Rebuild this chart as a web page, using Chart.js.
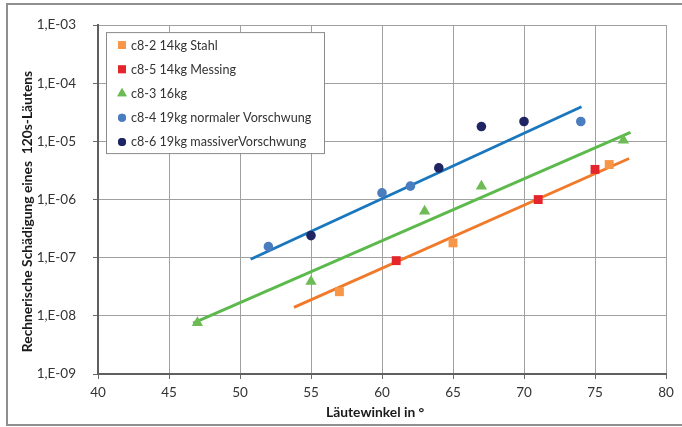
<!DOCTYPE html>
<html>
<head>
<meta charset="utf-8">
<script src="https://cdn.jsdelivr.net/npm/chart.js@4/dist/chart.umd.min.js"></script>
<style>
  html, body { margin: 0; padding: 0; background: #fff; }
  #wrap { width: 682px; height: 427px; }
</style>
</head>
<body>
<div id="wrap"><canvas id="chart" width="682" height="427"></canvas></div>
<script>
// Messpunkte je Glocke (Läutewinkel in Grad / rechnerische Schädigung)
const stahlX = [57, 65, 76];
const stahlY = [2.6e-8, 1.8e-7, 4.0e-6];
const messingX = [61, 71, 75];
const messingY = [8.9e-8, 1.0e-6, 3.3e-6];
const c83X = [47, 55, 63, 67, 77];
const c83Y = [7.6e-9, 3.9e-8, 6.3e-7, 1.7e-6, 1.05e-5];
const c84X = [52, 60, 62, 74];
const c84Y = [1.55e-7, 1.3e-6, 1.7e-6, 2.2e-5];
const c86X = [55, 64, 67, 70];
const c86Y = [2.4e-7, 3.5e-6, 1.8e-5, 2.2e-5];

// Trendlinien (exponentiell -> Gerade im log-Diagramm), Anfangs- und Endpunkt
const trendBlueX = [50.75, 74.05];
const trendBlueY = [9.4e-8, 3.95e-5];
const trendGreenX = [46.7, 77.5];
const trendGreenY = [7.5e-9, 1.43e-5];
const trendOrangeX = [53.8, 77.4];
const trendOrangeY = [1.4e-8, 5.1e-6];

// Achsenbeschriftung
const xTicks = [40, 45, 50, 55, 60, 65, 70, 75, 80];
const yTickValues = [1e-9, 1e-8, 1e-7, 1e-6, 1e-5, 1e-4, 1e-3];
const yTickLabels = ['1,E-09', '1,E-08', '1,E-07', '1,E-06', '1,E-05', '1,E-04', '1,E-03'];
const xTitle = 'Läutewinkel in °';
const yTitle = 'Rechnerische Schädigung eines  120s-Läutens';

const FONT = 'Lato, Carlito, Calibri, sans-serif';
const TEXT = '#333';

function pts(xs, ys) { return xs.map((x, i) => ({x: x, y: ys[i]})); }

function markerSet(label, xs, ys, color, style, r) {
  return {
    label: label, data: pts(xs, ys), inLegend: true,
    pointStyle: style, pointRadius: r, pointBackgroundColor: color,
    pointBorderColor: color, pointBorderWidth: 0, backgroundColor: color,
    showLine: false
  };
}
function trendSet(xs, ys, color) {
  return {
    label: '', data: pts(xs, ys), inLegend: false,
    showLine: true, borderColor: color, borderWidth: 2.8,
    pointRadius: 0, fill: false
  };
}

// Rahmen um das ganze Diagramm
const framePlugin = {
  id: 'frame',
  beforeDraw(chart) {
    const c = chart.ctx;
    c.save();
    c.fillStyle = '#fff';
    c.fillRect(0, 0, chart.width, chart.height);
    c.strokeStyle = '#8f8f8f';
    c.lineWidth = 2;
    c.beginPath();
    c.moveTo(chart.width, 4);
    c.lineTo(7, 4);
    c.lineTo(7, 425);
    c.lineTo(chart.width, 425);
    c.stroke();
    c.restore();
  }
};

// Achsentitel (wie im Excel-Diagramm leicht versetzt)
const axisTitles = {
  id: 'axisTitles',
  afterDraw(chart) {
    const c = chart.ctx;
    const a = chart.chartArea;
    c.save();
    c.font = 'bold 13.8px ' + FONT;
    c.fillStyle = '#1a1a1a';
    c.textAlign = 'center';
    c.textBaseline = 'middle';
    c.fillText(xTitle, a.left + (a.right - a.left) * 0.488, 413);
    c.translate(28, chart.height / 2 - 2);
    c.rotate(-Math.PI / 2);
    c.fillText(yTitle, 0, 0);
    c.restore();
  }
};

// Legende im Plotbereich mit Rahmen
const boxLegend = {
  id: 'boxLegend',
  afterDatasetsDraw(chart) {
    const c = chart.ctx;
    const a = chart.chartArea;
    const left = a.left + 8, top = a.top + 7, w = 218, h = 121;
    c.save();
    c.fillStyle = '#fff';
    c.fillRect(left, top, w, h);
    c.strokeStyle = '#8a8a8a';
    c.lineWidth = 1;
    c.strokeRect(left + 0.5, top + 0.5, w, h);
    c.font = '12.6px ' + FONT;
    c.textBaseline = 'middle';
    let row = 0;
    chart.data.datasets.forEach(ds => {
      if (!ds.inLegend) return;
      const y = top + 13 + row * 24.2;
      c.fillStyle = ds.pointBackgroundColor;
      Chart.helpers.drawPoint(c, {pointStyle: ds.pointStyle, radius: ds.pointStyle === 'circle' ? 4 : 5.5, rotation: 0, borderWidth: 0}, left + 16, y);
      c.fill();
      c.fillStyle = TEXT;
      c.fillText(ds.label, left + 25, y + 0.5);
      row++;
    });
    c.restore();
  }
};

const ctx = document.getElementById('chart').getContext('2d');
new Chart(ctx, {
  type: 'scatter',
  data: {
    datasets: [
      markerSet('c8-2 14kg Stahl', stahlX, stahlY, '#f79646', 'rect', 6.3),
      markerSet('c8-5 14kg Messing', messingX, messingY, '#e4262c', 'rect', 6.3),
      markerSet('c8-3 16kg', c83X, c83Y, '#6dbb55', 'triangle', 6.5),
      markerSet('c8-4 19kg normaler Vorschwung', c84X, c84Y, '#4a7dbf', 'circle', 4.8),
      markerSet('c8-6 19kg massiverVorschwung', c86X, c86Y, '#1f2462', 'circle', 4.8),
      trendSet(trendBlueX, trendBlueY, '#1a76bd'),
      trendSet(trendGreenX, trendGreenY, '#5cba4c'),
      trendSet(trendOrangeX, trendOrangeY, '#f07a2a')
    ]
  },
  options: {
    responsive: false,
    animation: false,
    layout: { padding: { top: 25, right: 16, left: 0, bottom: 0 } },
    plugins: {
      legend: { display: false },
      tooltip: { enabled: false }
    },
    scales: {
      x: {
        type: 'linear', min: 40, max: 80,
        afterFit(s) { s.height = 53; },
        afterBuildTicks(s) { s.ticks = xTicks.map(v => ({value: v})); },
        ticks: { font: { family: FONT, size: 13.5 }, color: TEXT, padding: 6, maxRotation: 0 },
        grid: { color: '#a0a0a0', lineWidth: 1, tickLength: 5, tickColor: '#6b6b6b' },
        border: { color: '#5f5f5f', width: 2 }
      },
      y: {
        type: 'logarithmic', min: 1e-9, max: 1e-3,
        afterFit(s) { s.width = 98; },
        afterBuildTicks(s) { s.ticks = yTickValues.map(v => ({value: v})); },
        ticks: {
          font: { family: FONT, size: 13.5 }, color: TEXT, padding: 17,
          callback: (v) => yTickLabels[yTickValues.findIndex(t => Math.abs(t - v) / t < 1e-6)]
        },
        grid: { color: '#a0a0a0', lineWidth: 1, tickLength: 5, tickColor: '#6b6b6b' },
        border: { color: '#5f5f5f', width: 2 }
      }
    }
  },
  plugins: [framePlugin, boxLegend, axisTitles]
});
</script>
</body>
</html>
